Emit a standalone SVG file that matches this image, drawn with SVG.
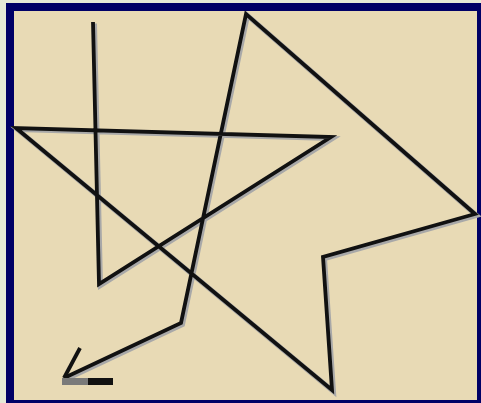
<svg xmlns="http://www.w3.org/2000/svg" width="481" height="403" viewBox="0 0 481 403">
<style>
.sh{fill:none;stroke:#a8a8a8;stroke-width:5;stroke-linejoin:miter;stroke-linecap:butt}
.ln{fill:none;stroke:#111;stroke-width:3.8;stroke-linejoin:miter;stroke-linecap:butt}
</style>
<rect x="0" y="0" width="481" height="403" fill="#e6ead6"/>
<rect x="10" y="7" width="471" height="397" fill="#e8dab5" stroke="#000066" stroke-width="8"/>
<g id="path-shadow" transform="translate(1.5,1.5)">
<polyline class="sh" points="93,22 99,284 331,137 16,128 332,390 323,257 475,214 246,14 181,323 64,378"/>
</g>
<g id="path">
<polyline class="ln" points="93,22 99,284 331,137 16,128 332,390 323,257 475,214 246,14 181,323 64,378"/>
<polyline class="ln" points="80,348 64,378"/>
</g>
<g id="bar">
<rect x="62" y="378" width="26" height="7" fill="#7a7a7a"/>
<rect x="88" y="378" width="25" height="7" fill="#111"/>
</g>
</svg>
